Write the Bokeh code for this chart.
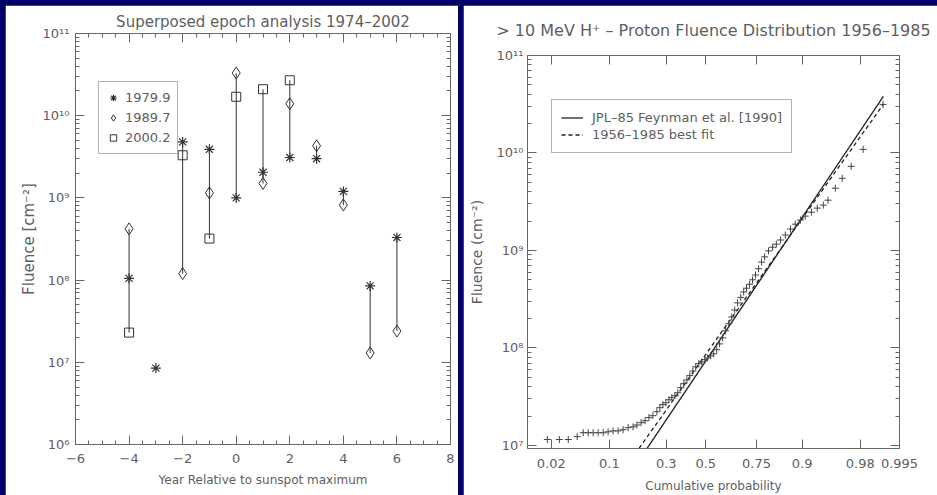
import numpy as np
from statistics import NormalDist
from bokeh.plotting import figure
from bokeh.models import (Range1d, FixedTicker, LinearAxis, LogAxis, Legend,
                          LegendItem, Spacer)
from bokeh.layouts import row, column
from bokeh.embed import file_html
from bokeh.resources import INLINE

nan = float("nan")

# ---------------- left panel data (superposed epoch analysis) ----------------
years_rel = [-4, -3, -2, -1, 0, 1, 2, 3, 4, 5, 6]
fluence_1979 = [1.05e8, 8.5e6, 4.8e9, 3.9e9, 1.0e9, 2.05e9, 3.1e9, 3.0e9, 1.2e9, 8.5e7, 3.3e8]
fluence_1989 = [4.2e8, nan, 1.2e8, 1.15e9, 3.3e10, 1.5e9, 1.4e10, 4.3e9, 8.2e8, 1.3e7, 2.4e7]
fluence_2000 = [2.3e7, nan, 3.3e9, 3.2e8, 1.7e10, 2.1e10, 2.7e10, nan, nan, nan, nan]
series_labels = ["1979.9", "1989.7", "2000.2"]

left_xticks = [-6, -4, -2, 0, 2, 4, 6, 8]
decade_ticks = [1e6, 1e7, 1e8, 1e9, 1e10, 1e11]
decade_labels = ["10\u2076", "10\u2077", "10\u2078", "10\u2079", "10\u00b9\u2070", "10\u00b9\u00b9"]

# ---------------- right panel data (probability plot) ----------------
cum_prob = [0.0176, 0.0258, 0.0338, 0.0437, 0.0517, 0.059, 0.0672, 0.0763, 0.0863, 0.0971,
            0.109, 0.122, 0.136, 0.151, 0.167, 0.180, 0.195, 0.210, 0.225, 0.241,
            0.258, 0.271, 0.284, 0.298, 0.312, 0.326, 0.341, 0.355, 0.370, 0.385,
            0.401, 0.416, 0.432, 0.447, 0.463, 0.479, 0.495, 0.510, 0.526, 0.542,
            0.558, 0.573, 0.589, 0.604, 0.620, 0.635, 0.650, 0.664, 0.679, 0.693,
            0.706, 0.720, 0.733, 0.746, 0.759, 0.771, 0.783, 0.798, 0.813, 0.826,
            0.840, 0.855, 0.870, 0.883, 0.896, 0.907, 0.920, 0.931, 0.941, 0.948,
            0.9575, 0.9652, 0.9734, 0.9818, 0.9908]
obs_fluence = [1.15e7, 1.15e7, 1.15e7, 1.23e7, 1.35e7, 1.35e7, 1.35e7, 1.35e7, 1.35e7, 1.38e7,
               1.41e7, 1.41e7, 1.45e7, 1.52e7, 1.55e7, 1.62e7, 1.71e7, 1.79e7, 1.93e7, 2.02e7,
               2.22e7, 2.44e7, 2.62e7, 2.74e7, 2.94e7, 3.09e7, 3.24e7, 3.47e7, 3.91e7, 4.3e7,
               4.7e7, 5.2e7, 5.8e7, 6.4e7, 6.9e7, 7.2e7, 7.6e7, 7.9e7, 8.3e7, 8.7e7,
               9.6e7, 1.1e8, 1.27e8, 1.5e8, 1.77e8, 2.08e8, 2.45e8, 2.9e8, 3.3e8, 3.75e8,
               4.1e8, 4.5e8, 5.0e8, 5.6e8, 6.5e8, 7.6e8, 8.6e8, 9.9e8, 1.08e9, 1.16e9,
               1.28e9, 1.44e9, 1.66e9, 1.86e9, 2.05e9, 2.25e9, 2.47e9, 2.72e9, 2.92e9, 3.28e9,
               4.35e9, 5.5e9, 7.3e9, 1.09e10, 3.15e10]
jpl_prob = [0.2177, 0.9909]
jpl_fluence = [9.33e6, 3.8e10]
fit_prob = [0.1875, 0.9909]
fit_fluence = [9.33e6, 3.16e10]
line_labels = ["JPL\u201385 Feynman et al. [1990]", "1956\u20131985 best fit"]
prob_ticks = [0.02, 0.1, 0.3, 0.5, 0.75, 0.9, 0.98, 0.995]
prob_tick_labels = ["0.02", "0.1", "0.3", "0.5", "0.75", "0.9", "0.98", "0.995"]
right_decades = [1e7, 1e8, 1e9, 1e10, 1e11]
right_decade_labels = ["10\u2077", "10\u2078", "10\u2079", "10\u00b9\u2070", "10\u00b9\u00b9"]

left_title = "Superposed epoch analysis 1974\u20132002"
right_title = "> 10 MeV H\u207a \u2013 Proton Fluence Distribution 1956\u20131985"

# ---------------- styling ----------------
NAVY = "#000068"
AX = "#666666"
TXT = "#5e5e5e"
INK = "#333333"
FONT = "DejaVu Sans"

nd = NormalDist()
def zq(p):
    return nd.inv_cdf(p)

def style_axis(ax, show_labels=True, tick_in=9, minor_in=4):
    ax.axis_line_color = AX
    ax.major_tick_line_color = AX
    ax.minor_tick_line_color = AX
    ax.major_tick_in = tick_in
    ax.major_tick_out = 0
    ax.minor_tick_in = minor_in
    ax.minor_tick_out = 0
    ax.major_label_text_font = FONT
    ax.axis_label_text_color = TXT
    ax.axis_label_text_font = FONT
    ax.axis_label_text_font_style = "normal"
    ax.axis_label_text_font_size = "13px"
    if show_labels:
        ax.major_label_text_color = TXT
        ax.major_label_text_font_size = "13px"
    else:
        ax.major_label_text_color = None
        ax.major_label_text_font_size = "1px"
        ax.major_label_standoff = 0
        ax.axis_label_standoff = 0

def no_align(p):
    if "frame_align" in p.properties():
        p.frame_align = False

minor_dec = [m * 10.0 ** e for e in range(6, 11) for m in range(2, 10)]

# ================= LEFT =================
p1 = figure(width=453, height=490, y_axis_type="log",
            x_range=Range1d(-6, 8), y_range=Range1d(1e6, 1e11),
            output_backend="svg", toolbar_location=None,
            min_border_left=70, min_border_right=8, min_border_top=28, min_border_bottom=51)
no_align(p1)
p1.grid.visible = False
p1.outline_line_color = None

xt = FixedTicker(ticks=left_xticks, minor_ticks=list(np.arange(-6, 8.01, 0.5)))
yt = FixedTicker(ticks=decade_ticks, minor_ticks=minor_dec)
p1.xaxis.ticker = xt
p1.yaxis.ticker = yt
p1.yaxis.major_label_overrides = dict(zip(decade_ticks, decade_labels))
p1.xaxis.axis_label = "Year Relative to sunspot maximum"
p1.yaxis.axis_label = "Fluence [cm\u207b\u00b2]"
for ax in p1.xaxis + p1.yaxis:
    style_axis(ax)
p1.xaxis.axis_label_text_font_size = "12px"
p1.yaxis.axis_label_text_font_size = "15px"
p1.xaxis.major_label_standoff = 9
p1.yaxis.major_label_standoff = 6
p1.yaxis.axis_label_standoff = 2
p1.xaxis.axis_label_standoff = 7

top1 = LinearAxis(ticker=xt)
style_axis(top1, show_labels=False)
top1.axis_label = left_title
top1.axis_label_text_font_size = "15px"
top1.axis_label_standoff = 3
p1.add_layout(top1, "above")
right1 = LogAxis(ticker=yt)
style_axis(right1, show_labels=False)
p1.add_layout(right1, "right")

allf = np.array([fluence_1979, fluence_1989, fluence_2000], dtype=float)
lo = np.nanmin(allf, axis=0)
hi = np.nanmax(allf, axis=0)
p1.segment(x0=years_rel, y0=lo, x1=years_rel, y1=hi, line_color=INK, line_width=1)

r_s = p1.scatter(years_rel, fluence_1979, marker="asterisk", size=10, line_color=INK, line_width=1.2)
r_d = p1.scatter(years_rel, fluence_1989, marker="diamond", size=12, line_color=INK, fill_color=None, line_width=1)
r_q = p1.scatter(years_rel, fluence_2000, marker="square", size=9, line_color=INK, fill_color=None, line_width=1)

leg1 = Legend(items=[LegendItem(label=series_labels[0], renderers=[r_s]),
                     LegendItem(label=series_labels[1], renderers=[r_d]),
                     LegendItem(label=series_labels[2], renderers=[r_q])],
              location=(23, 290), margin=0, padding=6, spacing=1,
              glyph_width=16, glyph_height=19, label_height=19, label_standoff=4,
              label_text_font=FONT, label_text_font_size="13px", label_text_color=TXT,
              border_line_color=AX, border_line_width=1, background_fill_color="white")
p1.add_layout(leg1)

# ================= RIGHT =================
p2 = figure(width=474, height=490, y_axis_type="log",
            x_range=Range1d(zq(0.0089), zq(0.995)), y_range=Range1d(9.3e6, 1e11),
            output_backend="svg", toolbar_location=None,
            min_border_left=64, min_border_right=38, min_border_top=50, min_border_bottom=47)
no_align(p2)
p2.grid.visible = False
p2.outline_line_color = None

zt = [zq(p) for p in prob_ticks]
xt2 = FixedTicker(ticks=zt)
p2.xaxis.ticker = xt2
p2.xaxis.major_label_overrides = dict(zip(zt, prob_tick_labels))
yt2 = FixedTicker(ticks=right_decades, minor_ticks=minor_dec)
p2.yaxis.ticker = yt2
p2.yaxis.major_label_overrides = dict(zip(right_decades, right_decade_labels))
p2.xaxis.axis_label = "Cumulative probability"
p2.yaxis.axis_label = "Fluence (cm\u207b\u00b2)"
for ax in p2.xaxis + p2.yaxis:
    style_axis(ax)
p2.xaxis.axis_label_text_font_size = "12px"
p2.yaxis.axis_label_text_font_size = "14px"
p2.xaxis.major_label_standoff = 10
p2.yaxis.major_label_standoff = 4
p2.yaxis.axis_label_standoff = 9
p2.xaxis.axis_label_standoff = 8

top2 = LinearAxis(ticker=xt2)
style_axis(top2, show_labels=False)
top2.axis_label = right_title
top2.axis_label_text_font_size = "16px"
top2.axis_label_standoff = 16
p2.add_layout(top2, "above")
right2 = LogAxis(ticker=yt2)
style_axis(right2, show_labels=False)
p2.add_layout(right2, "right")

r_jpl = p2.line([zq(p) for p in jpl_prob], jpl_fluence, line_color="#222222", line_width=1.3)
r_fit = p2.line([zq(p) for p in fit_prob], fit_fluence, line_color="#222222", line_width=1.3,
                line_dash="4 3")
p2.scatter([zq(p) for p in cum_prob], obs_fluence, marker="cross", size=7,
           line_color="#444444", line_width=1)

leg2 = Legend(items=[LegendItem(label=line_labels[0], renderers=[r_jpl]),
                     LegendItem(label=line_labels[1], renderers=[r_fit])],
              location=(24, 295), margin=0, padding=9, spacing=0,
              glyph_width=22, glyph_height=17, label_height=17, label_standoff=9,
              label_text_font=FONT, label_text_font_size="13px", label_text_color=TXT,
              border_line_color=AX, border_line_width=1, background_fill_color="white")
p2.add_layout(leg2)

layout = column(Spacer(width=937, height=5),
                row(Spacer(width=5, height=490), p1, Spacer(width=5, height=490), p2),
                styles={"background-color": NAVY})

html = file_html(layout, INLINE)
open("out.html", "w").write(html)
